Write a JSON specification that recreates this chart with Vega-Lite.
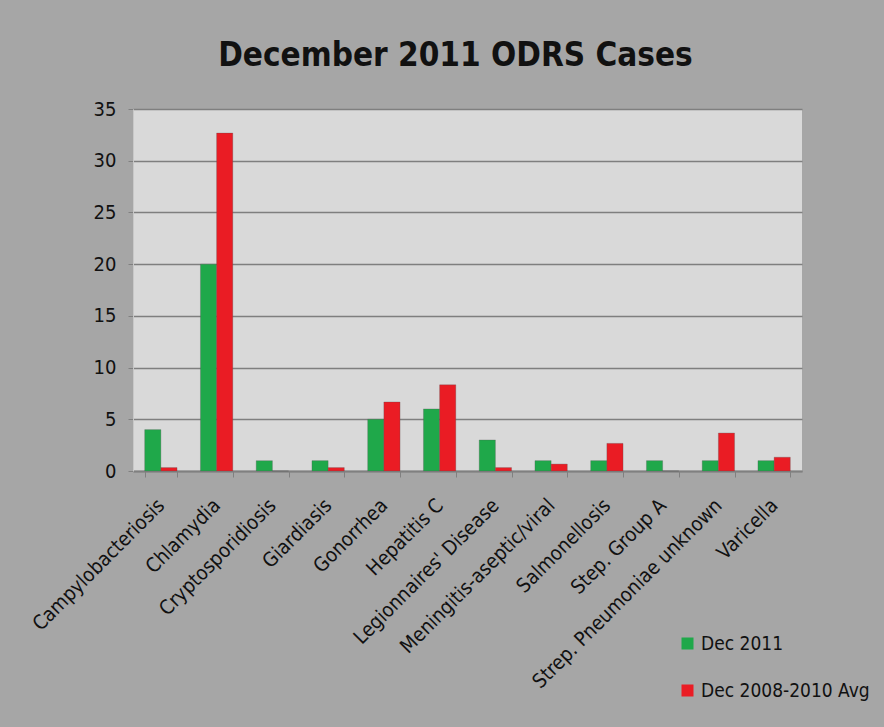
{
  "$schema": "https://vega.github.io/schema/vega-lite/v6.json",
  "width": 669,
  "height": 362,
  "autosize": {"type": "none"},
  "padding": {"left": 133, "top": 109, "right": 82, "bottom": 256},
  "background": "#a6a6a6",
  "title": {
    "text": "December 2011 ODRS Cases",
    "fontSize": 33,
    "fontWeight": "bold",
    "font": "DejaVu Sans Condensed, sans-serif",
    "color": "#111111",
    "anchor": "middle",
    "offset": 26,
    "dx": -12
  },
  "data": {
    "values": [
      {"disease": "Campylobacteriosis", "series": "Dec 2011", "cases": 4},
      {"disease": "Campylobacteriosis", "series": "Dec 2008-2010 Avg", "cases": 0.33},
      {"disease": "Chlamydia", "series": "Dec 2011", "cases": 20},
      {"disease": "Chlamydia", "series": "Dec 2008-2010 Avg", "cases": 32.67},
      {"disease": "Cryptosporidiosis", "series": "Dec 2011", "cases": 1},
      {"disease": "Cryptosporidiosis", "series": "Dec 2008-2010 Avg", "cases": 0},
      {"disease": "Giardiasis", "series": "Dec 2011", "cases": 1},
      {"disease": "Giardiasis", "series": "Dec 2008-2010 Avg", "cases": 0.33},
      {"disease": "Gonorrhea", "series": "Dec 2011", "cases": 5},
      {"disease": "Gonorrhea", "series": "Dec 2008-2010 Avg", "cases": 6.67},
      {"disease": "Hepatitis C", "series": "Dec 2011", "cases": 6},
      {"disease": "Hepatitis C", "series": "Dec 2008-2010 Avg", "cases": 8.33},
      {"disease": "Legionnaires' Disease", "series": "Dec 2011", "cases": 3},
      {"disease": "Legionnaires' Disease", "series": "Dec 2008-2010 Avg", "cases": 0.33},
      {"disease": "Meningitis-aseptic/viral", "series": "Dec 2011", "cases": 1},
      {"disease": "Meningitis-aseptic/viral", "series": "Dec 2008-2010 Avg", "cases": 0.67},
      {"disease": "Salmonellosis", "series": "Dec 2011", "cases": 1},
      {"disease": "Salmonellosis", "series": "Dec 2008-2010 Avg", "cases": 2.67},
      {"disease": "Step. Group A", "series": "Dec 2011", "cases": 1},
      {"disease": "Step. Group A", "series": "Dec 2008-2010 Avg", "cases": 0},
      {"disease": "Strep. Pneumoniae unknown", "series": "Dec 2011", "cases": 1},
      {"disease": "Strep. Pneumoniae unknown", "series": "Dec 2008-2010 Avg", "cases": 3.67},
      {"disease": "Varicella", "series": "Dec 2011", "cases": 1},
      {"disease": "Varicella", "series": "Dec 2008-2010 Avg", "cases": 1.33}
    ]
  },
  "mark": {"type": "bar", "stroke": "#555555", "strokeWidth": 0.5, "strokeOpacity": 0.6},
  "encoding": {
    "x": {
      "field": "disease",
      "type": "nominal",
      "sort": null,
      "title": null,
      "scale": {"paddingInner": 0.42, "paddingOuter": 0.21},
      "axis": {
        "labelAngle": -45,
        "labelAlign": "right",
        "labelBaseline": "top",
        "labelFontSize": 20,
        "labelLimit": 0,
        "labelFont": "DejaVu Sans Condensed, sans-serif",
        "labelColor": "#111111",
        "labelPadding": 18,
        "labelOffset": -7,
        "tickBand": "extent",
        "tickColor": "#808080",
        "tickSize": 6,
        "domainColor": "#808080",
        "domainWidth": 2
      }
    },
    "xOffset": {
      "field": "series",
      "type": "nominal",
      "sort": ["Dec 2011", "Dec 2008-2010 Avg"]
    },
    "y": {
      "field": "cases",
      "type": "quantitative",
      "title": null,
      "scale": {"domain": [0, 35], "nice": false},
      "axis": {
        "values": [0, 5, 10, 15, 20, 25, 30, 35],
        "labelFontSize": 20,
        "labelFont": "DejaVu Sans Condensed, sans-serif",
        "labelColor": "#111111",
        "labelPadding": 12,
        "gridColor": "#7f7f7f",
        "gridWidth": 1.5,
        "tickColor": "#808080",
        "tickSize": 5,
        "domainColor": "#c8c8c8",
        "domainWidth": 1
      }
    },
    "color": {
      "field": "series",
      "type": "nominal",
      "sort": ["Dec 2011", "Dec 2008-2010 Avg"],
      "scale": {"domain": ["Dec 2011", "Dec 2008-2010 Avg"], "range": ["#1fa84a", "#ea1c24"]},
      "legend": {
        "title": null,
        "orient": "none",
        "legendX": 545,
        "legendY": 525,
        "symbolType": "square",
        "symbolSize": 144,
        "symbolStrokeWidth": 0,
        "labelFontSize": 19,
        "labelLimit": 0,
        "labelFont": "DejaVu Sans Condensed, sans-serif",
        "labelColor": "#111111",
        "rowPadding": 27
      }
    }
  },
  "config": {
    "view": {"fill": "#d9d9d9", "stroke": null}
  }
}
